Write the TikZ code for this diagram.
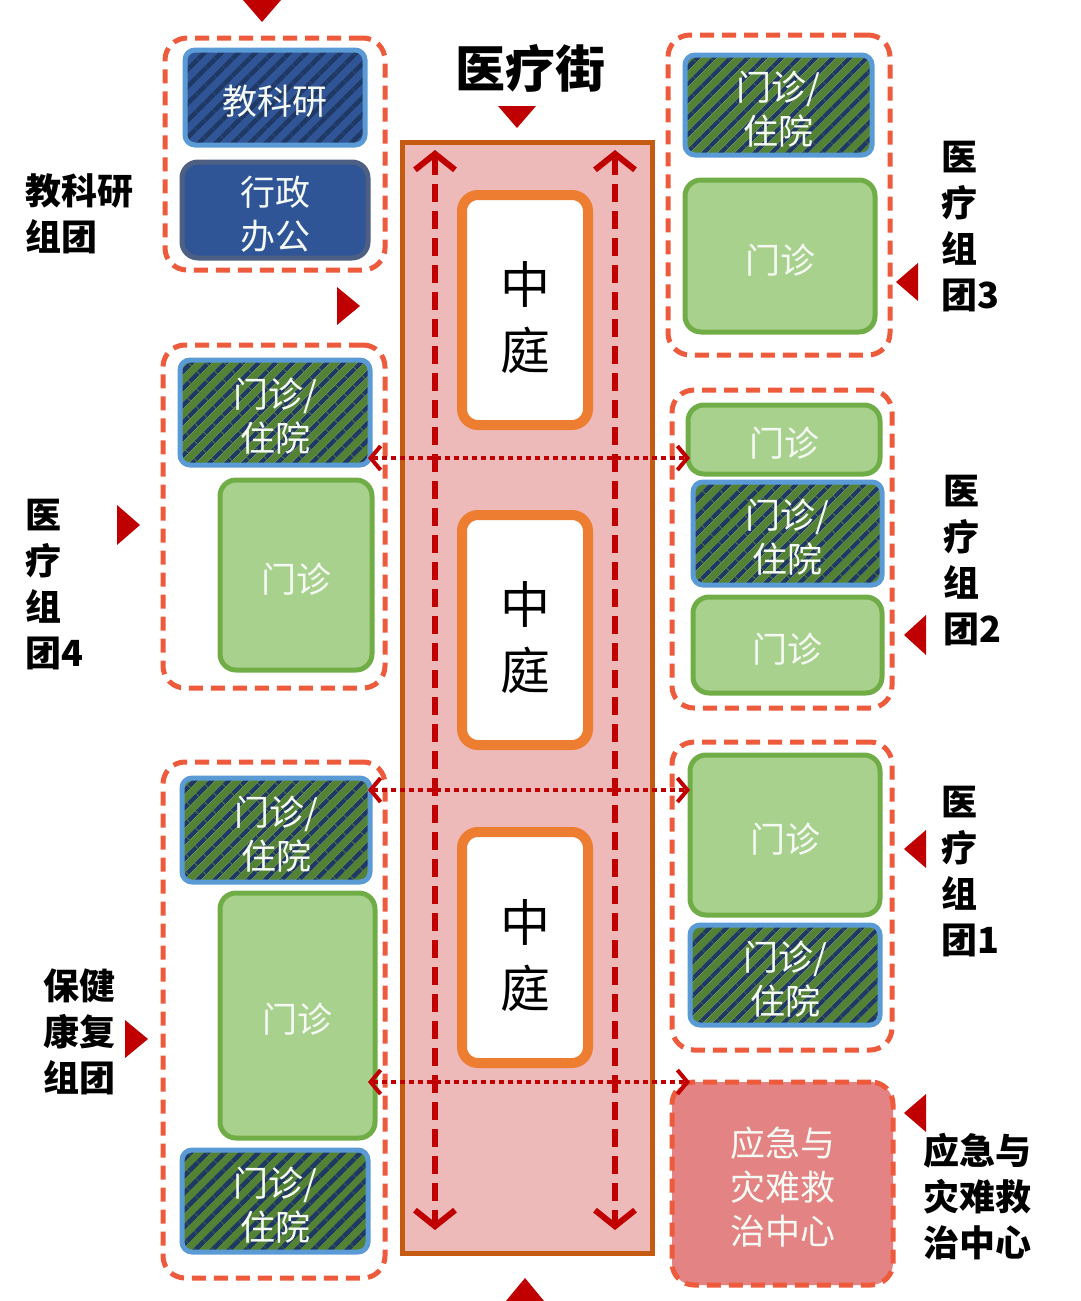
\documentclass[tikz,border=0pt]{standalone}
\usepackage{fontspec}
\setmainfont{Noto Sans CJK SC}
\usetikzlibrary{fit,positioning,arrows.meta,patterns.meta}
\definecolor{grpred}{HTML}{EE5A3C}
\definecolor{darkred}{HTML}{C00000}
\definecolor{court}{HTML}{ED7D31}
\definecolor{streetfill}{HTML}{EDB9B9}
\definecolor{streetline}{HTML}{C55A11}
\definecolor{hgreen}{HTML}{548235}
\definecolor{hblue}{HTML}{203864}
\definecolor{lblue}{HTML}{5B9BD5}
\definecolor{lgreen}{HTML}{A9D18E}
\definecolor{mgreen}{HTML}{70AD47}
\definecolor{navy}{HTML}{2F5597}
\definecolor{emerg}{HTML}{E48383}
\tikzset{
  grp/.style={draw=grpred, line width=5pt, dash pattern=on 14pt off 8pt, rounded corners=22pt, inner sep=0pt},
  say/.style={label={[align=center, yshift=-4pt, font=\fontsize{35}{44}\selectfont, text=white!90!lgreen]center:{#1}}},
  saycourt/.style={label={[align=center, yshift=-8pt, font=\fontsize{50}{66}\selectfont]center:{#1}}},
  hatchbox/.style={draw=lblue, line width=5pt, rounded corners=10pt, inner sep=0pt,
    preaction={fill=hgreen, rounded corners=10pt},
    pattern={Lines[angle=45,distance=13pt,line width=5pt]}, pattern color=hblue},
  greenbox/.style={draw=mgreen, line width=5pt, rounded corners=16pt, fill=lgreen, inner sep=0pt},
  courtbox/.style={draw=court, line width=10pt, rounded corners=16pt, fill=white, inner sep=0pt},
  lbl/.style={font=\bfseries\fontsize{36}{46}\selectfont, align=left, anchor=north west},
  tri/.style={fill=darkred, draw=none},
  walk/.style={darkred, line width=6pt, dash pattern=on 18pt off 9pt, {Straight Barb[length=16pt,width=40pt]}-{Straight Barb[length=16pt,width=40pt]}},
  link/.style={darkred, line width=4pt, dash pattern=on 5pt off 4pt, {Straight Barb[length=10pt,width=24pt]}-{Straight Barb[length=10pt,width=24pt]}}
}
\begin{document}
\begin{tikzpicture}[x=1pt,y=-1pt]
  \useasboundingbox (0,0) rectangle (1080,1301);
  % street
  \node[fill=streetfill, draw=streetline, line width=5pt, inner sep=0pt, fit={(402,142) (652,1253)}] (street) {};
  \node[font=\bfseries\fontsize{50}{56}\selectfont] (title) at (530,68) {医疗街};
  \node[courtbox, saycourt={中\\庭}, fit={(462,195) (588,425)}] (c1) {};
  \node[courtbox, saycourt={中\\庭}, fit={(462,515) (588,745)}] (c2) {};
  \node[courtbox, saycourt={中\\庭}, fit={(462,832) (588,1063)}] (c3) {};
  \coordinate (lt) at (435,150); \coordinate (lb) at (435,1230);
  \coordinate (rt) at (615,150); \coordinate (rb) at (615,1230);
  \draw[walk] (lt) -- (lb);
  \draw[walk] (rt) -- (rb);
  % left groups
  \node[grp, fit={(165,38) (385,270)}] (g0) {};
  \node[hatchbox, preaction={fill=navy, rounded corners=10pt}, say={教科研}, fit={(185,50) (365,145)}] (g0a) {};
  \node[greenbox, draw=hblue!80, fill=navy, say={行政\\办公}, fit={(182,162) (368,258)}] (g0b) {};
  \node[grp, fit={(163,345) (385,688)}] (g4) {};
  \node[hatchbox, say={门诊/\\住院}, fit={(180,360) (370,465)}] (g4a) {};
  \node[greenbox, say={门诊}, fit={(220,480) (372,670)}] (g4b) {};
  \node[grp, fit={(163,762) (385,1278)}] (g5) {};
  \node[hatchbox, say={门诊/\\住院}, fit={(182,778) (370,882)}] (g5a) {};
  \node[greenbox, say={门诊}, fit={(220,893) (375,1138)}] (g5b) {};
  \node[hatchbox, say={门诊/\\住院}, fit={(182,1150) (368,1252)}] (g5c) {};
  % right groups
  \node[grp, fit={(668,35) (890,355)}] (g3) {};
  \node[hatchbox, say={门诊/\\住院}, fit={(685,55) (872,155)}] (g3a) {};
  \node[greenbox, say={门诊}, fit={(685,180) (875,332)}] (g3b) {};
  \node[grp, fit={(672,390) (892,708)}] (g2) {};
  \node[greenbox, say={门诊}, fit={(688,405) (880,474)}] (g2a) {};
  \node[hatchbox, say={门诊/\\住院}, fit={(693,482) (882,585)}] (g2b) {};
  \node[greenbox, say={门诊}, fit={(693,597) (882,693)}] (g2c) {};
  \node[grp, fit={(672,742) (892,1050)}] (g1) {};
  \node[greenbox, say={门诊}, fit={(690,755) (880,915)}] (g1a) {};
  \node[hatchbox, say={门诊/\\住院}, fit={(690,925) (880,1025)}] (g1b) {};
  \node[grp, fill=emerg, say={应急与\\灾难救\\治中心}, fit={(672,1082) (893,1285)}] (g6) {};
  % cross links
  \coordinate (a1) at (368,458); \coordinate (b1) at (690,458);
  \coordinate (a2) at (368,790); \coordinate (b2) at (690,790);
  \coordinate (a3) at (368,1082); \coordinate (b3) at (690,1082);
  \draw[link] (a1) -- (b1);
  \draw[link] (a2) -- (b2);
  \draw[link] (a3) -- (b3);
  % labels
  \node[lbl] (l0) at (22,170) {教科研\\组团};
  \node[lbl] (l4) at (22,496) {医\\疗\\组\\团4};
  \node[lbl] (l5) at (40,965) {保健\\康复\\组团};
  \node[lbl] (l3) at (938,138) {医\\疗\\组\\团3};
  \node[lbl] (l2) at (940,472) {医\\疗\\组\\团2};
  \node[lbl] (l1) at (938,783) {医\\疗\\组\\团1};
  \node[lbl] (l6) at (920,1130) {应急与\\灾难救\\治中心};
  % pointers
  \fill[tri] (243,0) -- (281,0) -- (262,22) -- cycle;
  \fill[tri] (498,106) -- (536,106) -- (517,128) -- cycle;
  \fill[tri] (506,1301) -- (544,1301) -- (525,1278) -- cycle;
  \fill[tri] (337,287) -- (360,306) -- (337,325) -- cycle;
  \fill[tri] (117,505) -- (140,525) -- (117,545) -- cycle;
  \fill[tri] (125,1020) -- (148,1039) -- (125,1058) -- cycle;
  \fill[tri] (918,263) -- (896,282) -- (918,301) -- cycle;
  \fill[tri] (926,615) -- (904,635) -- (926,655) -- cycle;
  \fill[tri] (926,830) -- (904,849) -- (926,868) -- cycle;
  \fill[tri] (926,1094) -- (904,1113) -- (926,1132) -- cycle;
\end{tikzpicture}
\end{document}
